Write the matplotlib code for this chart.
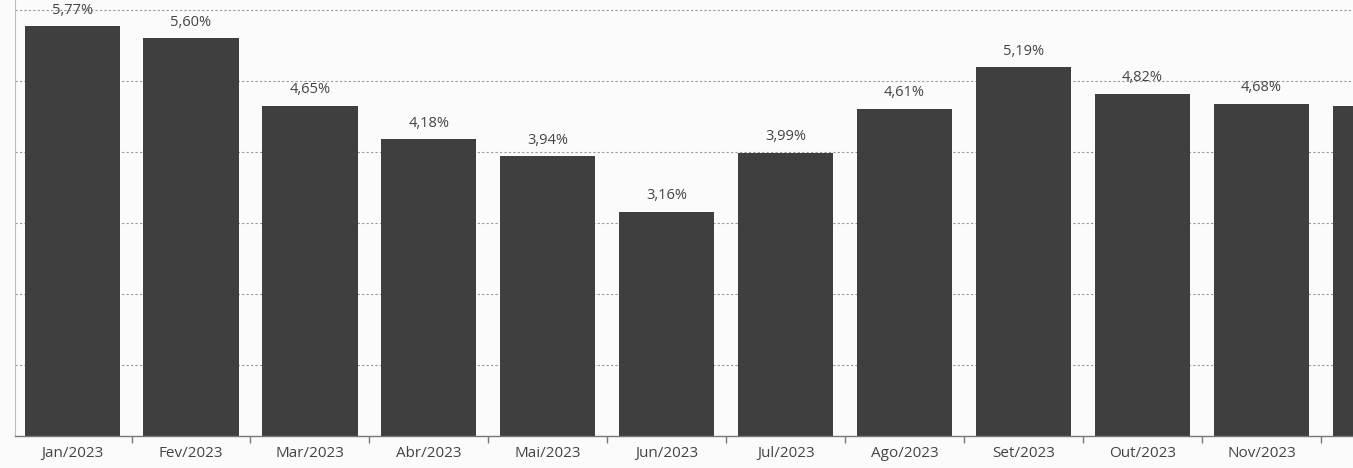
import matplotlib.pyplot as plt
import numpy as np

meses = ['Jan/2023', 'Fev/2023', 'Mar/2023', 'Abr/2023', 'Mai/2023', 'Jun/2023',
         'Jul/2023', 'Ago/2023', 'Set/2023', 'Out/2023', 'Nov/2023', 'Dez/2023']
valores = [5.77, 5.60, 4.65, 4.18, 3.94, 3.16, 3.99, 4.61, 5.19, 4.82, 4.68, 4.65]
rotulos = ['5,77%', '5,60%', '4,65%', '4,18%', '3,94%', '3,16%',
           '3,99%', '4,61%', '5,19%', '4,82%', '4,68%', '4,65%']

# a ultima barra (Dez) aparece cortada na borda, sem textos visiveis
n_visiveis = 11

plt.rcParams['font.family'] = ['Open Sans', 'DejaVu Sans']

fig = plt.figure(figsize=(13.53, 4.68), dpi=100)
fig.patch.set_facecolor('#fbfbfb')
ax = fig.add_axes([15 / 1353, 1 - 436 / 468, 1 - 15 / 1353, 436 / 468])
ax.set_facecolor('#fbfbfb')

x = np.arange(len(meses))
ax.bar(x, valores, width=0.8, color='#3f3f3f', zorder=2)

for xi, v, r in zip(x[:n_visiveis], valores[:n_visiveis], rotulos[:n_visiveis]):
    ax.text(xi, v + 0.12, r, ha='center', va='bottom', fontsize=10.5,
            color='#444444', zorder=3)

ax.set_xlim(-0.48, 10.77)
ax.set_ylim(0, 6.14)

# grade tracejada
ax.set_yticks([1, 2, 3, 4, 5, 6])
ax.yaxis.grid(True, linestyle=(0, (2, 2)), color='#9a9a9a', linewidth=0.8, zorder=0)
ax.tick_params(axis='y', left=False, labelleft=False)

# rotulos do eixo x e marcas entre as barras
ax.set_xticks(x[:n_visiveis])
ax.set_xticklabels(meses[:n_visiveis], fontsize=11, color='#444444')
ax.tick_params(axis='x', length=0, pad=7)
ax.set_xticks(x[:-1] + 0.5, minor=True)
ax.tick_params(axis='x', which='minor', length=5, color='#777777', width=1)

for s in ['top', 'right']:
    ax.spines[s].set_visible(False)
ax.spines['left'].set_color('#bbbbbb')
ax.spines['left'].set_linewidth(0.8)
ax.spines['bottom'].set_color('#777777')
ax.spines['bottom'].set_linewidth(1)

fig.savefig('out.png', dpi=100, facecolor=fig.get_facecolor())
